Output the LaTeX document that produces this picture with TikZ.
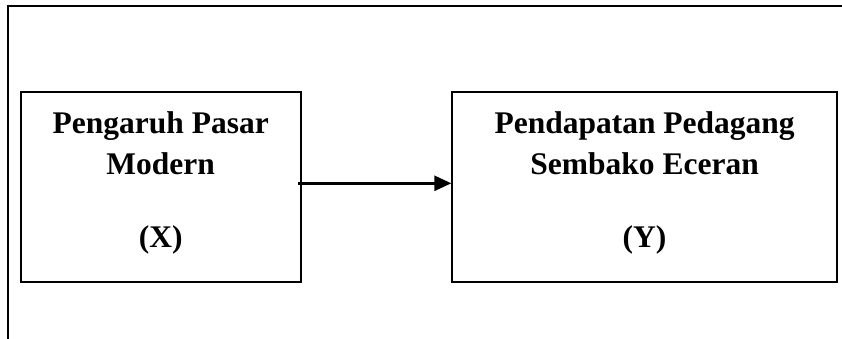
\documentclass[tikz,border=0pt]{standalone}
\usepackage{fontspec}
\setmainfont{Liberation Serif}
\usetikzlibrary{arrows.meta}
\begin{document}
\begin{tikzpicture}[x=1pt,y=-1pt,
  frame/.style={line width=2pt},
  varbox/.style={draw,line width=1.8pt,inner sep=0pt},
  label/.style={anchor=base,inner sep=0pt,font=\fontsize{31.5}{38}\selectfont\bfseries},
  arr/.style={line width=2.6pt,-{Triangle[length=17pt,width=15pt]}}]
\useasboundingbox (0,0) rectangle (842,339);
\draw[frame] (842,6) -- (7.5,6) -- (7.5,339);
\node[varbox,minimum width=280pt,minimum height=190pt] (bx) at (160.7,187) {};
\node[varbox,minimum width=384.7pt,minimum height=190pt] (by) at (644.6,187) {};
\node[label] (x1) at (160.7,133.3) {Pengaruh Pasar};
\node[label] (x2) at (160.7,175) {Modern};
\node[label] (x3) at (160.7,247.5) {(X)};
\node[label] (y1) at (644.6,133.3) {Pendapatan Pedagang};
\node[label] (y2) at (644.6,175) {Sembako Eceran};
\node[label] (y3) at (644.6,247.5) {(Y)};
\coordinate (a) at (298,183.3);
\draw[arr] (a) -- (a -| by.west);
\end{tikzpicture}
\end{document}
